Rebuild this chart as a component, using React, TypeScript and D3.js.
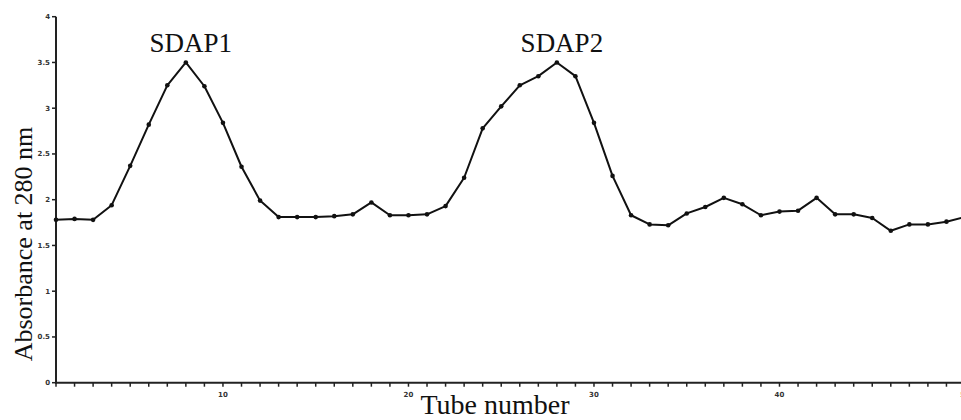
import React from "react";
import * as d3 from "d3";

const tubes: number[] = Array.from({ length: 50 }, (_, i) => i + 1);
const absorbance: number[] = [
  1.78, 1.79, 1.78, 1.94, 2.37, 2.82, 3.25, 3.5, 3.24, 2.84,
  2.36, 1.99, 1.81, 1.81, 1.81, 1.82, 1.84, 1.97, 1.83, 1.83,
  1.84, 1.93, 2.24, 2.78, 3.02, 3.25, 3.35, 3.5, 3.35, 2.84,
  2.26, 1.83, 1.73, 1.72, 1.85, 1.92, 2.02, 1.95, 1.83, 1.87,
  1.88, 2.02, 1.84, 1.84, 1.8, 1.66, 1.73, 1.73, 1.76, 1.81,
];
const yTicks: number[] = [0, 0.5, 1, 1.5, 2, 2.5, 3, 3.5, 4];
const xTickLabels: number[] = [10, 20, 30, 40, 50];
const peakLabels: { name: string; tube: number }[] = [
  { name: "SDAP1", tube: 8 },
  { name: "SDAP2", tube: 28 },
];

const W = 961;
const H = 420;

export default function App() {
  const x = d3.scaleLinear().domain([1, 50]).range([56, 965]);
  const y = d3.scaleLinear().domain([0, 4]).range([382.7, 16.7]);
  const data = tubes.map((t, i) => ({ t, v: absorbance[i] }));
  const line = d3
    .line<{ t: number; v: number }>()
    .x((d) => x(d.t))
    .y((d) => y(d.v));

  const axisY = y(0);
  return (
    <svg
      width={W}
      height={H}
      style={{ position: "absolute", left: 0, top: 0, background: "#fff" }}
    >
      {/* y axis */}
      <line x1={56} x2={56} y1={y(4)} y2={axisY + 1} stroke="#222" strokeWidth={2} />
      {yTicks.map((t) => (
        <g key={t}>
          <line x1={52} x2={56} y1={y(t)} y2={y(t)} stroke="#222" strokeWidth={1.5} />
          <text
            x={50}
            y={y(t)}
            dy="0.35em"
            textAnchor="end"
            fontFamily="DejaVu Sans"
            fontWeight="bold"
            fontSize={7}
            fill="#333"
          >
            {t}
          </text>
        </g>
      ))}
      {/* x axis */}
      <line x1={55} x2={W} y1={axisY} y2={axisY} stroke="#222" strokeWidth={2} />
      {tubes.map((t) => (
        <line
          key={t}
          x1={x(t)}
          x2={x(t)}
          y1={axisY}
          y2={axisY + 4}
          stroke="#222"
          strokeWidth={1.5}
        />
      ))}
      {xTickLabels.map((t) => (
        <text
          key={t}
          x={x(t)}
          y={397}
          textAnchor="middle"
          fontFamily="DejaVu Sans"
          fontWeight="bold"
          fontSize={7}
          fill="#333"
        >
          {t}
        </text>
      ))}
      {/* data line */}
      <path d={line(data) || ""} fill="none" stroke="#111" strokeWidth={2} strokeLinejoin="round" />
      {data.map((d) => (
        <circle key={d.t} cx={x(d.t)} cy={y(d.v)} r={2.3} fill="#111" />
      ))}
      {/* peak labels */}
      {peakLabels.map((p) => (
        <text
          key={p.name}
          x={x(p.tube) + 5}
          y={y(absorbance[p.tube - 1]) - 10}
          textAnchor="middle"
          fontFamily="Liberation Serif"
          fontSize={27}
          fill="#111"
        >
          {p.name}
        </text>
      ))}
      {/* axis titles */}
      <text
        transform={`translate(32, 244) rotate(-90)`}
        textAnchor="middle"
        fontFamily="Liberation Serif"
        fontSize={26}
        fill="#111"
      >
        Absorbance at 280 nm
      </text>
      <text
        x={495}
        y={414}
        textAnchor="middle"
        fontFamily="Liberation Serif"
        fontSize={28}
        fill="#111"
      >
        Tube number
      </text>
    </svg>
  );
}
